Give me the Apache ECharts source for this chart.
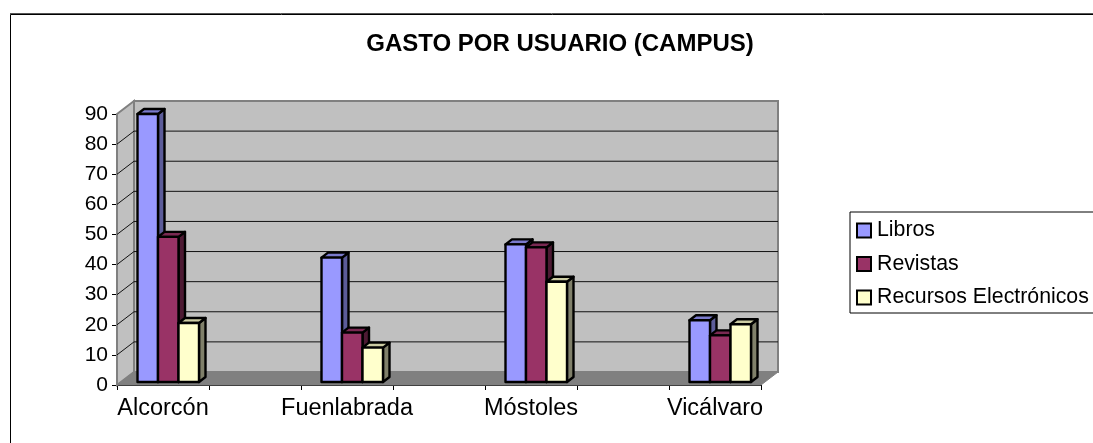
<!DOCTYPE html>
<html>
<head>
<meta charset="utf-8">
<title>Gasto por usuario</title>
<script src="https://cdn.jsdelivr.net/npm/echarts@6/dist/echarts.min.js"></script>
<style>
html,body{margin:0;padding:0;background:#fff}
#chart{width:1093px;height:443px}
</style>
</head>
<body>
<div id="chart"></div>
<script>
// blank slots between campuses, the original axis has 7 bands
var categories=['Alcorcón','','Fuenlabrada','','Móstoles','','Vicálvaro'];
var yTicks=[0,10,20,30,40,50,60,70,80,90];
var libros=[89,null,41.3,null,45.7,null,20.5];
var revistas=[48.2,null,16.4,null,44.7,null,15.5];
var recursos=[19.6,null,11.4,null,33.3,null,19.2];

var colLibros=['#9999ff','#5c5c99','#7a7acc'];
var colRevistas=['#993366','#4d1a33','#7a2952'];
var colRecursos=['#ffffcc','#80806a','#cccca3'];

var depthX=17, depthY=-13;  // wall depth
var barDX=5.5, barDY=-3;    // how far the bars stand from the front axis plane
var barW=20.5, barDepthX=6.5, barDepthY=-5;

var chart=echarts.init(document.getElementById('chart'));

function wallsItem(params,api){
    var v=api.value(0);
    var p0=api.coord([0,0]);
    var p1=api.coord([0,v]);
    var band=api.size([1,0])[0];
    var left=p0[0]-band/2;
    var right=left+band*categories.length;
    var children=[];
    if(params.dataIndex===0){
        var top=api.coord([0,yTicks[yTicks.length-1]])[1];
        var bot=p0[1];
        children.push({type:'polygon',shape:{points:[[left+depthX,top+depthY],[right+depthX,top+depthY],[right+depthX,bot+depthY],[left+depthX,bot+depthY]]},
            style:{fill:'#c0c0c0',stroke:'#808080',lineWidth:2}});
        children.push({type:'polygon',shape:{points:[[left,top],[left+depthX,top+depthY],[left+depthX,bot+depthY],[left,bot]]},
            style:{fill:'#c0c0c0',stroke:'#808080',lineWidth:2}});
        children.push({type:'polygon',shape:{points:[[left,bot],[left+depthX,bot+depthY],[right+depthX,bot+depthY],[right,bot]]},
            style:{fill:'#808080',stroke:'#808080',lineWidth:1}});
    }
    if(v>0&&v<yTicks[yTicks.length-1]){
        children.push({type:'polyline',shape:{points:[[left,p1[1]],[left+depthX,p1[1]+depthY],[right+depthX,p1[1]+depthY]]},
            style:{fill:null,stroke:'#111',lineWidth:1}});
    }
    return {type:'group',children:children};
}

function barRender(idx,cols){
    return function(params,api){
        var val=api.value(1);
        if(val==null||isNaN(val)) return;
        var base=api.coord([api.value(0),0]);
        var top=api.coord([api.value(0),val]);
        var x0=base[0]+barDX-31+idx*barW;
        var x1=x0+barW;
        var y0=base[1]+barDY;
        var y1=top[1]+barDY;
        var line={stroke:'#000',lineWidth:2.4,lineJoin:'round'};
        return {type:'group',children:[
            {type:'polygon',shape:{points:[[x1,y1],[x1+barDepthX,y1+barDepthY],[x1+barDepthX,y0+barDepthY],[x1,y0]]},
                style:Object.assign({fill:cols[1]},line)},
            {type:'polygon',shape:{points:[[x0,y1],[x0+barDepthX,y1+barDepthY],[x1+barDepthX,y1+barDepthY],[x1,y1]]},
                style:Object.assign({fill:cols[2]},line)},
            {type:'rect',shape:{x:x0,y:y1,width:barW,height:y0-y1},
                style:Object.assign({fill:cols[0]},line)}
        ]};
    };
}

function barSeries(name,values,idx,cols){
    return {
        name:name,
        type:'custom',
        z:3+idx,
        coordinateSystem:'cartesian2d',
        renderItem:barRender(idx,cols),
        encode:{x:0,y:1},
        itemStyle:{color:cols[0],borderColor:'#000',borderWidth:2.4},
        data:values.map(function(v,i){return [i,v];})
    };
}

var option={
    animation:false,
    backgroundColor:'#fff',
    title:{
        text:'GASTO POR USUARIO (CAMPUS)',
        left:555,
        top:27,
        textAlign:'center',
        textStyle:{fontFamily:'Liberation Sans',fontWeight:'bold',fontSize:24,color:'#000'}
    },
    legend:{
        left:850,
        top:212,
        orient:'vertical',
        padding:[8,8,5,6],
        itemWidth:14,
        itemHeight:14,
        itemGap:12.5,
        borderColor:'#000',
        borderWidth:1,
        backgroundColor:'#fff',
        icon:'rect',
        textStyle:{fontFamily:'Liberation Sans',fontSize:21.3,color:'#000',padding:[0,0,0,1]},
        data:['Libros','Revistas','Recursos Electrónicos']
    },
    graphic:[{
        type:'rect',
        shape:{x:10.5,y:14.5,width:1200,height:600},
        style:{fill:null,stroke:'#000',lineWidth:1},
        silent:true
    },{
        type:'line',
        shape:{x1:10,y1:13.5,x2:1093,y2:13.5},
        style:{stroke:'#555',lineWidth:1},
        silent:true
    }],
    grid:{left:117,right:332,top:114,height:271},
    xAxis:{
        type:'category',
        data:categories,
        axisTick:{show:true,length:5,lineStyle:{color:'#000',width:1}},
        axisLine:{lineStyle:{color:'#000',width:1}},
        axisLabel:{fontFamily:'Liberation Sans',fontSize:23.5,color:'#000',interval:0,margin:12,overflow:'none'}
    },
    yAxis:{
        type:'value',
        min:0,
        max:90,
        interval:10,
        axisTick:{show:true,length:5,lineStyle:{color:'#000',width:1}},
        axisLine:{show:true,lineStyle:{color:'#000',width:1}},
        splitLine:{show:false},
        axisLabel:{fontFamily:'Liberation Sans',fontSize:21,color:'#000',margin:9}
    },
    series:[
        {
            type:'custom',
            z:1,
            silent:true,
            renderItem:wallsItem,
            encode:{y:0},
            data:yTicks.map(function(t){return [t];})
        },
        barSeries('Libros',libros,0,colLibros),
        barSeries('Revistas',revistas,1,colRevistas),
        barSeries('Recursos Electrónicos',recursos,2,colRecursos)
    ]
};
chart.setOption(option);
</script>
</body>
</html>
